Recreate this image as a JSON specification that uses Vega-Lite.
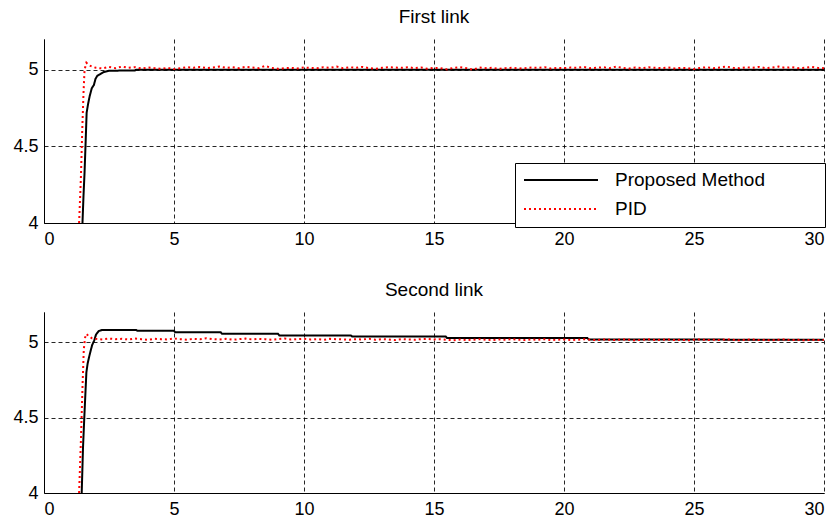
{
  "$schema": "https://vega.github.io/schema/vega-lite/v6.json",
  "background": "white",
  "padding": {"left": 5, "right": 5, "top": 8, "bottom": 5},
  "spacing": 33,
  "config": {
    "view": {"stroke": null},
    "font": "Liberation Sans",
    "axis": {
      "labelFont": "Liberation Sans",
      "labelFontSize": 18,
      "labelColor": "#000000",
      "domainColor": "#000000",
      "domainWidth": 1,
      "gridColor": "#000000",
      "gridDash": [4, 3],
      "gridOpacity": 0.85,
      "gridWidth": 1,
      "ticks": false,
      "title": null
    },
    "title": {"font": "Liberation Sans", "fontSize": 19, "fontWeight": "normal", "color": "#000000", "offset": 12}
  },
  "data": {"values": [
    {"panel": 1, "method": "Proposed Method", "t": 1.48, "y": 4.0},
    {"panel": 1, "method": "Proposed Method", "t": 1.52, "y": 4.18},
    {"panel": 1, "method": "Proposed Method", "t": 1.56, "y": 4.33},
    {"panel": 1, "method": "Proposed Method", "t": 1.6, "y": 4.52},
    {"panel": 1, "method": "Proposed Method", "t": 1.64, "y": 4.72},
    {"panel": 1, "method": "Proposed Method", "t": 1.7, "y": 4.78},
    {"panel": 1, "method": "Proposed Method", "t": 1.76, "y": 4.83},
    {"panel": 1, "method": "Proposed Method", "t": 1.84, "y": 4.88},
    {"panel": 1, "method": "Proposed Method", "t": 1.92, "y": 4.9},
    {"panel": 1, "method": "Proposed Method", "t": 1.98, "y": 4.94},
    {"panel": 1, "method": "Proposed Method", "t": 2.05, "y": 4.96},
    {"panel": 1, "method": "Proposed Method", "t": 2.15, "y": 4.97},
    {"panel": 1, "method": "Proposed Method", "t": 2.3, "y": 4.985},
    {"panel": 1, "method": "Proposed Method", "t": 2.5, "y": 4.993},
    {"panel": 1, "method": "Proposed Method", "t": 3.5, "y": 4.995},
    {"panel": 1, "method": "Proposed Method", "t": 3.55, "y": 5.0},
    {"panel": 1, "method": "Proposed Method", "t": 30, "y": 5.0},
    {"panel": 1, "method": "PID", "t": 1.35, "y": 4.0},
    {"panel": 1, "method": "PID", "t": 1.42, "y": 4.3},
    {"panel": 1, "method": "PID", "t": 1.47, "y": 4.6},
    {"panel": 1, "method": "PID", "t": 1.52, "y": 4.85},
    {"panel": 1, "method": "PID", "t": 1.56, "y": 5.0},
    {"panel": 1, "method": "PID", "t": 1.63, "y": 5.045},
    {"panel": 1, "method": "PID", "t": 1.72, "y": 5.03},
    {"panel": 1, "method": "PID", "t": 1.85, "y": 5.02},
    {"panel": 1, "method": "PID", "t": 2.0, "y": 5.012},
    {"panel": 1, "method": "PID", "t": 2.25, "y": 5.008},
    {"panel": 1, "method": "PID", "t": 2.5, "y": 5.018},
    {"panel": 1, "method": "PID", "t": 2.75, "y": 5.01},
    {"panel": 1, "method": "PID", "t": 3.0, "y": 5.02},
    {"panel": 1, "method": "PID", "t": 3.25, "y": 5.012},
    {"panel": 1, "method": "PID", "t": 3.5, "y": 5.016},
    {"panel": 1, "method": "PID", "t": 3.75, "y": 5.008},
    {"panel": 1, "method": "PID", "t": 4.0, "y": 5.014},
    {"panel": 1, "method": "PID", "t": 4.25, "y": 5.01},
    {"panel": 1, "method": "PID", "t": 4.5, "y": 5.006},
    {"panel": 1, "method": "PID", "t": 4.75, "y": 5.012},
    {"panel": 1, "method": "PID", "t": 5.0, "y": 5.004},
    {"panel": 1, "method": "PID", "t": 5.25, "y": 5.01},
    {"panel": 1, "method": "PID", "t": 5.5, "y": 5.016},
    {"panel": 1, "method": "PID", "t": 5.75, "y": 5.012},
    {"panel": 1, "method": "PID", "t": 6.0, "y": 5.018},
    {"panel": 1, "method": "PID", "t": 6.25, "y": 5.01},
    {"panel": 1, "method": "PID", "t": 6.5, "y": 5.014},
    {"panel": 1, "method": "PID", "t": 6.75, "y": 5.02},
    {"panel": 1, "method": "PID", "t": 7.0, "y": 5.012},
    {"panel": 1, "method": "PID", "t": 7.25, "y": 5.016},
    {"panel": 1, "method": "PID", "t": 7.5, "y": 5.01},
    {"panel": 1, "method": "PID", "t": 7.75, "y": 5.018},
    {"panel": 1, "method": "PID", "t": 8.0, "y": 5.014},
    {"panel": 1, "method": "PID", "t": 8.25, "y": 5.01},
    {"panel": 1, "method": "PID", "t": 8.5, "y": 5.024},
    {"panel": 1, "method": "PID", "t": 8.75, "y": 5.012},
    {"panel": 1, "method": "PID", "t": 9.0, "y": 5.006},
    {"panel": 1, "method": "PID", "t": 9.25, "y": 5.01},
    {"panel": 1, "method": "PID", "t": 9.5, "y": 5.012},
    {"panel": 1, "method": "PID", "t": 9.75, "y": 5.008},
    {"panel": 1, "method": "PID", "t": 10.0, "y": 5.014},
    {"panel": 1, "method": "PID", "t": 10.25, "y": 5.012},
    {"panel": 1, "method": "PID", "t": 10.5, "y": 5.01},
    {"panel": 1, "method": "PID", "t": 10.75, "y": 5.016},
    {"panel": 1, "method": "PID", "t": 11.0, "y": 5.012},
    {"panel": 1, "method": "PID", "t": 11.25, "y": 5.02},
    {"panel": 1, "method": "PID", "t": 11.5, "y": 5.01},
    {"panel": 1, "method": "PID", "t": 11.75, "y": 5.016},
    {"panel": 1, "method": "PID", "t": 12.0, "y": 5.012},
    {"panel": 1, "method": "PID", "t": 12.25, "y": 5.018},
    {"panel": 1, "method": "PID", "t": 12.5, "y": 5.01},
    {"panel": 1, "method": "PID", "t": 12.75, "y": 5.006},
    {"panel": 1, "method": "PID", "t": 13.0, "y": 5.012},
    {"panel": 1, "method": "PID", "t": 13.25, "y": 5.016},
    {"panel": 1, "method": "PID", "t": 13.5, "y": 5.014},
    {"panel": 1, "method": "PID", "t": 13.75, "y": 5.012},
    {"panel": 1, "method": "PID", "t": 14.0, "y": 5.016},
    {"panel": 1, "method": "PID", "t": 14.25, "y": 5.01},
    {"panel": 1, "method": "PID", "t": 14.5, "y": 5.014},
    {"panel": 1, "method": "PID", "t": 14.75, "y": 5.006},
    {"panel": 1, "method": "PID", "t": 15.0, "y": 5.012},
    {"panel": 1, "method": "PID", "t": 15.25, "y": 5.01},
    {"panel": 1, "method": "PID", "t": 15.5, "y": 5.002},
    {"panel": 1, "method": "PID", "t": 15.75, "y": 5.012},
    {"panel": 1, "method": "PID", "t": 16.0, "y": 5.016},
    {"panel": 1, "method": "PID", "t": 16.25, "y": 5.01},
    {"panel": 1, "method": "PID", "t": 16.5, "y": 5.0},
    {"panel": 1, "method": "PID", "t": 16.75, "y": 5.014},
    {"panel": 1, "method": "PID", "t": 17.0, "y": 5.01},
    {"panel": 1, "method": "PID", "t": 17.25, "y": 5.012},
    {"panel": 1, "method": "PID", "t": 17.5, "y": 5.006},
    {"panel": 1, "method": "PID", "t": 17.75, "y": 5.01},
    {"panel": 1, "method": "PID", "t": 18.0, "y": 5.012},
    {"panel": 1, "method": "PID", "t": 18.25, "y": 5.008},
    {"panel": 1, "method": "PID", "t": 18.5, "y": 5.01},
    {"panel": 1, "method": "PID", "t": 18.75, "y": 5.014},
    {"panel": 1, "method": "PID", "t": 19.0, "y": 5.012},
    {"panel": 1, "method": "PID", "t": 19.25, "y": 5.016},
    {"panel": 1, "method": "PID", "t": 19.5, "y": 5.008},
    {"panel": 1, "method": "PID", "t": 19.75, "y": 5.012},
    {"panel": 1, "method": "PID", "t": 20.0, "y": 5.01},
    {"panel": 1, "method": "PID", "t": 20.25, "y": 5.014},
    {"panel": 1, "method": "PID", "t": 20.5, "y": 5.012},
    {"panel": 1, "method": "PID", "t": 20.75, "y": 5.018},
    {"panel": 1, "method": "PID", "t": 21.0, "y": 5.01},
    {"panel": 1, "method": "PID", "t": 21.25, "y": 5.012},
    {"panel": 1, "method": "PID", "t": 21.5, "y": 5.016},
    {"panel": 1, "method": "PID", "t": 21.75, "y": 5.01},
    {"panel": 1, "method": "PID", "t": 22.0, "y": 5.02},
    {"panel": 1, "method": "PID", "t": 22.25, "y": 5.012},
    {"panel": 1, "method": "PID", "t": 22.5, "y": 5.008},
    {"panel": 1, "method": "PID", "t": 22.75, "y": 5.014},
    {"panel": 1, "method": "PID", "t": 23.0, "y": 5.01},
    {"panel": 1, "method": "PID", "t": 23.25, "y": 5.016},
    {"panel": 1, "method": "PID", "t": 23.5, "y": 5.012},
    {"panel": 1, "method": "PID", "t": 23.75, "y": 5.01},
    {"panel": 1, "method": "PID", "t": 24.0, "y": 5.014},
    {"panel": 1, "method": "PID", "t": 24.25, "y": 5.008},
    {"panel": 1, "method": "PID", "t": 24.5, "y": 5.012},
    {"panel": 1, "method": "PID", "t": 24.75, "y": 5.01},
    {"panel": 1, "method": "PID", "t": 25.0, "y": 5.004},
    {"panel": 1, "method": "PID", "t": 25.25, "y": 5.012},
    {"panel": 1, "method": "PID", "t": 25.5, "y": 5.016},
    {"panel": 1, "method": "PID", "t": 25.75, "y": 5.01},
    {"panel": 1, "method": "PID", "t": 26.0, "y": 5.014},
    {"panel": 1, "method": "PID", "t": 26.25, "y": 5.02},
    {"panel": 1, "method": "PID", "t": 26.5, "y": 5.012},
    {"panel": 1, "method": "PID", "t": 26.75, "y": 5.01},
    {"panel": 1, "method": "PID", "t": 27.0, "y": 5.016},
    {"panel": 1, "method": "PID", "t": 27.25, "y": 5.012},
    {"panel": 1, "method": "PID", "t": 27.5, "y": 5.018},
    {"panel": 1, "method": "PID", "t": 27.75, "y": 5.01},
    {"panel": 1, "method": "PID", "t": 28.0, "y": 5.014},
    {"panel": 1, "method": "PID", "t": 28.25, "y": 5.02},
    {"panel": 1, "method": "PID", "t": 28.5, "y": 5.012},
    {"panel": 1, "method": "PID", "t": 28.75, "y": 5.016},
    {"panel": 1, "method": "PID", "t": 29.0, "y": 5.01},
    {"panel": 1, "method": "PID", "t": 29.25, "y": 5.012},
    {"panel": 1, "method": "PID", "t": 29.5, "y": 5.018},
    {"panel": 1, "method": "PID", "t": 29.75, "y": 5.012},
    {"panel": 1, "method": "PID", "t": 30.0, "y": 5.01},
    {"panel": 2, "method": "Proposed Method", "t": 1.45, "y": 4.0},
    {"panel": 2, "method": "Proposed Method", "t": 1.5, "y": 4.3},
    {"panel": 2, "method": "Proposed Method", "t": 1.55, "y": 4.5},
    {"panel": 2, "method": "Proposed Method", "t": 1.59, "y": 4.65},
    {"panel": 2, "method": "Proposed Method", "t": 1.63, "y": 4.8},
    {"panel": 2, "method": "Proposed Method", "t": 1.68, "y": 4.86},
    {"panel": 2, "method": "Proposed Method", "t": 1.76, "y": 4.92},
    {"panel": 2, "method": "Proposed Method", "t": 1.85, "y": 4.98},
    {"panel": 2, "method": "Proposed Method", "t": 1.93, "y": 5.01},
    {"panel": 2, "method": "Proposed Method", "t": 2.0, "y": 5.05},
    {"panel": 2, "method": "Proposed Method", "t": 2.1, "y": 5.073},
    {"panel": 2, "method": "Proposed Method", "t": 2.22, "y": 5.08},
    {"panel": 2, "method": "Proposed Method", "t": 3.55, "y": 5.08},
    {"panel": 2, "method": "Proposed Method", "t": 3.6, "y": 5.075},
    {"panel": 2, "method": "Proposed Method", "t": 5.0, "y": 5.075},
    {"panel": 2, "method": "Proposed Method", "t": 5.05, "y": 5.065},
    {"panel": 2, "method": "Proposed Method", "t": 6.8, "y": 5.065},
    {"panel": 2, "method": "Proposed Method", "t": 6.85, "y": 5.055},
    {"panel": 2, "method": "Proposed Method", "t": 9.0, "y": 5.055},
    {"panel": 2, "method": "Proposed Method", "t": 9.05, "y": 5.045},
    {"panel": 2, "method": "Proposed Method", "t": 11.8, "y": 5.045},
    {"panel": 2, "method": "Proposed Method", "t": 11.85, "y": 5.038},
    {"panel": 2, "method": "Proposed Method", "t": 15.45, "y": 5.038},
    {"panel": 2, "method": "Proposed Method", "t": 15.5, "y": 5.027},
    {"panel": 2, "method": "Proposed Method", "t": 20.9, "y": 5.027},
    {"panel": 2, "method": "Proposed Method", "t": 20.95, "y": 5.018},
    {"panel": 2, "method": "Proposed Method", "t": 30, "y": 5.016},
    {"panel": 2, "method": "PID", "t": 1.35, "y": 4.0},
    {"panel": 2, "method": "PID", "t": 1.42, "y": 4.35},
    {"panel": 2, "method": "PID", "t": 1.48, "y": 4.7},
    {"panel": 2, "method": "PID", "t": 1.53, "y": 4.95},
    {"panel": 2, "method": "PID", "t": 1.58, "y": 5.03},
    {"panel": 2, "method": "PID", "t": 1.63, "y": 5.055},
    {"panel": 2, "method": "PID", "t": 1.72, "y": 5.04},
    {"panel": 2, "method": "PID", "t": 1.85, "y": 5.025},
    {"panel": 2, "method": "PID", "t": 2.0, "y": 5.022},
    {"panel": 2, "method": "PID", "t": 2.25, "y": 5.018},
    {"panel": 2, "method": "PID", "t": 2.5, "y": 5.024},
    {"panel": 2, "method": "PID", "t": 2.75, "y": 5.02},
    {"panel": 2, "method": "PID", "t": 3.0, "y": 5.022},
    {"panel": 2, "method": "PID", "t": 3.25, "y": 5.018},
    {"panel": 2, "method": "PID", "t": 3.5, "y": 5.024},
    {"panel": 2, "method": "PID", "t": 3.75, "y": 5.02},
    {"panel": 2, "method": "PID", "t": 4.0, "y": 5.016},
    {"panel": 2, "method": "PID", "t": 4.25, "y": 5.022},
    {"panel": 2, "method": "PID", "t": 4.5, "y": 5.02},
    {"panel": 2, "method": "PID", "t": 4.75, "y": 5.018},
    {"panel": 2, "method": "PID", "t": 5.0, "y": 5.024},
    {"panel": 2, "method": "PID", "t": 5.25, "y": 5.02},
    {"panel": 2, "method": "PID", "t": 5.5, "y": 5.016},
    {"panel": 2, "method": "PID", "t": 5.75, "y": 5.022},
    {"panel": 2, "method": "PID", "t": 6.0, "y": 5.02},
    {"panel": 2, "method": "PID", "t": 6.25, "y": 5.026},
    {"panel": 2, "method": "PID", "t": 6.5, "y": 5.02},
    {"panel": 2, "method": "PID", "t": 6.75, "y": 5.018},
    {"panel": 2, "method": "PID", "t": 7.0, "y": 5.022},
    {"panel": 2, "method": "PID", "t": 7.25, "y": 5.016},
    {"panel": 2, "method": "PID", "t": 7.5, "y": 5.02},
    {"panel": 2, "method": "PID", "t": 7.75, "y": 5.024},
    {"panel": 2, "method": "PID", "t": 8.0, "y": 5.018},
    {"panel": 2, "method": "PID", "t": 8.25, "y": 5.022},
    {"panel": 2, "method": "PID", "t": 8.5, "y": 5.02},
    {"panel": 2, "method": "PID", "t": 8.75, "y": 5.016},
    {"panel": 2, "method": "PID", "t": 9.0, "y": 5.02},
    {"panel": 2, "method": "PID", "t": 9.25, "y": 5.024},
    {"panel": 2, "method": "PID", "t": 9.5, "y": 5.018},
    {"panel": 2, "method": "PID", "t": 9.75, "y": 5.02},
    {"panel": 2, "method": "PID", "t": 10.0, "y": 5.022},
    {"panel": 2, "method": "PID", "t": 10.25, "y": 5.018},
    {"panel": 2, "method": "PID", "t": 10.5, "y": 5.02},
    {"panel": 2, "method": "PID", "t": 10.75, "y": 5.016},
    {"panel": 2, "method": "PID", "t": 11.0, "y": 5.022},
    {"panel": 2, "method": "PID", "t": 11.25, "y": 5.02},
    {"panel": 2, "method": "PID", "t": 11.5, "y": 5.018},
    {"panel": 2, "method": "PID", "t": 11.75, "y": 5.016},
    {"panel": 2, "method": "PID", "t": 12.0, "y": 5.02},
    {"panel": 2, "method": "PID", "t": 12.25, "y": 5.018},
    {"panel": 2, "method": "PID", "t": 12.5, "y": 5.022},
    {"panel": 2, "method": "PID", "t": 12.75, "y": 5.016},
    {"panel": 2, "method": "PID", "t": 13.0, "y": 5.02},
    {"panel": 2, "method": "PID", "t": 13.25, "y": 5.018},
    {"panel": 2, "method": "PID", "t": 13.5, "y": 5.014},
    {"panel": 2, "method": "PID", "t": 13.75, "y": 5.02},
    {"panel": 2, "method": "PID", "t": 14.0, "y": 5.018},
    {"panel": 2, "method": "PID", "t": 14.25, "y": 5.016},
    {"panel": 2, "method": "PID", "t": 14.5, "y": 5.02},
    {"panel": 2, "method": "PID", "t": 14.75, "y": 5.022},
    {"panel": 2, "method": "PID", "t": 15.0, "y": 5.018},
    {"panel": 2, "method": "PID", "t": 15.25, "y": 5.02},
    {"panel": 2, "method": "PID", "t": 15.5, "y": 5.016},
    {"panel": 2, "method": "PID", "t": 15.75, "y": 5.012},
    {"panel": 2, "method": "PID", "t": 16.0, "y": 5.018},
    {"panel": 2, "method": "PID", "t": 16.25, "y": 5.014},
    {"panel": 2, "method": "PID", "t": 16.5, "y": 5.016},
    {"panel": 2, "method": "PID", "t": 16.75, "y": 5.02},
    {"panel": 2, "method": "PID", "t": 17.0, "y": 5.016},
    {"panel": 2, "method": "PID", "t": 17.25, "y": 5.014},
    {"panel": 2, "method": "PID", "t": 17.5, "y": 5.018},
    {"panel": 2, "method": "PID", "t": 17.75, "y": 5.016},
    {"panel": 2, "method": "PID", "t": 18.0, "y": 5.02},
    {"panel": 2, "method": "PID", "t": 18.25, "y": 5.016},
    {"panel": 2, "method": "PID", "t": 18.5, "y": 5.014},
    {"panel": 2, "method": "PID", "t": 18.75, "y": 5.018},
    {"panel": 2, "method": "PID", "t": 19.0, "y": 5.016},
    {"panel": 2, "method": "PID", "t": 19.25, "y": 5.02},
    {"panel": 2, "method": "PID", "t": 19.5, "y": 5.014},
    {"panel": 2, "method": "PID", "t": 19.75, "y": 5.016},
    {"panel": 2, "method": "PID", "t": 20.0, "y": 5.018},
    {"panel": 2, "method": "PID", "t": 20.25, "y": 5.014},
    {"panel": 2, "method": "PID", "t": 20.5, "y": 5.016},
    {"panel": 2, "method": "PID", "t": 20.75, "y": 5.02},
    {"panel": 2, "method": "PID", "t": 21.0, "y": 5.016},
    {"panel": 2, "method": "PID", "t": 21.25, "y": 5.014},
    {"panel": 2, "method": "PID", "t": 21.5, "y": 5.018},
    {"panel": 2, "method": "PID", "t": 21.75, "y": 5.016},
    {"panel": 2, "method": "PID", "t": 22.0, "y": 5.014},
    {"panel": 2, "method": "PID", "t": 22.25, "y": 5.018},
    {"panel": 2, "method": "PID", "t": 22.5, "y": 5.016},
    {"panel": 2, "method": "PID", "t": 22.75, "y": 5.012},
    {"panel": 2, "method": "PID", "t": 23.0, "y": 5.016},
    {"panel": 2, "method": "PID", "t": 23.25, "y": 5.018},
    {"panel": 2, "method": "PID", "t": 23.5, "y": 5.014},
    {"panel": 2, "method": "PID", "t": 23.75, "y": 5.016},
    {"panel": 2, "method": "PID", "t": 24.0, "y": 5.018},
    {"panel": 2, "method": "PID", "t": 24.25, "y": 5.014},
    {"panel": 2, "method": "PID", "t": 24.5, "y": 5.016},
    {"panel": 2, "method": "PID", "t": 24.75, "y": 5.012},
    {"panel": 2, "method": "PID", "t": 25.0, "y": 5.016},
    {"panel": 2, "method": "PID", "t": 25.25, "y": 5.018},
    {"panel": 2, "method": "PID", "t": 25.5, "y": 5.014},
    {"panel": 2, "method": "PID", "t": 25.75, "y": 5.016},
    {"panel": 2, "method": "PID", "t": 26.0, "y": 5.014},
    {"panel": 2, "method": "PID", "t": 26.25, "y": 5.018},
    {"panel": 2, "method": "PID", "t": 26.5, "y": 5.016},
    {"panel": 2, "method": "PID", "t": 26.75, "y": 5.012},
    {"panel": 2, "method": "PID", "t": 27.0, "y": 5.016},
    {"panel": 2, "method": "PID", "t": 27.25, "y": 5.018},
    {"panel": 2, "method": "PID", "t": 27.5, "y": 5.014},
    {"panel": 2, "method": "PID", "t": 27.75, "y": 5.016},
    {"panel": 2, "method": "PID", "t": 28.0, "y": 5.012},
    {"panel": 2, "method": "PID", "t": 28.25, "y": 5.016},
    {"panel": 2, "method": "PID", "t": 28.5, "y": 5.018},
    {"panel": 2, "method": "PID", "t": 28.75, "y": 5.014},
    {"panel": 2, "method": "PID", "t": 29.0, "y": 5.016},
    {"panel": 2, "method": "PID", "t": 29.25, "y": 5.012},
    {"panel": 2, "method": "PID", "t": 29.5, "y": 5.016},
    {"panel": 2, "method": "PID", "t": 29.75, "y": 5.014},
    {"panel": 2, "method": "PID", "t": 30.0, "y": 5.014}
  ]},
  "resolve": {"legend": {"color": "independent", "strokeDash": "independent"}},
  "vconcat": [
    {
      "title": {"text": "First link"},
      "width": 780,
      "height": 184,
      "transform": [{"filter": "datum.panel === 1"}],
      "mark": {"type": "line", "strokeWidth": 2, "clip": true},
      "encoding": {
        "x": {"field": "t", "type": "quantitative", "scale": {"domain": [0, 30], "nice": false},
              "axis": {"values": [0, 5, 10, 15, 20, 25, 30], "format": "d", "labelPadding": 7}},
        "y": {"field": "y", "type": "quantitative", "scale": {"domain": [4, 5.2], "nice": false, "zero": false},
              "axis": {"values": [4, 4.5, 5], "format": "~g", "labelPadding": 6, "minExtent": 39, "maxExtent": 39}},
        "color": {"field": "method", "type": "nominal",
                  "scale": {"domain": ["Proposed Method", "PID"], "range": ["#000000", "#ff0000"]},
                  "legend": {"title": "\u00a0", "titleOrient": "right", "titlePadding": 52, "titleFontSize": 10,
                             "orient": "none", "legendX": 471, "legendY": 124,
                             "fillColor": "white", "strokeColor": "#000000", "padding": 8,
                             "symbolType": "stroke", "symbolSize": 5476, "symbolStrokeWidth": 2,
                             "clipHeight": 18,
                             "labelFont": "Liberation Sans", "labelFontSize": 19, "labelColor": "#000000",
                             "labelOffset": 16, "rowPadding": 10}},
        "strokeDash": {"field": "method", "type": "nominal",
                  "scale": {"domain": ["Proposed Method", "PID"], "range": [[1, 0], [2, 3]]},
                  "legend": {"title": "\u00a0", "titleOrient": "right", "titlePadding": 52, "titleFontSize": 10,
                             "orient": "none", "legendX": 471, "legendY": 124,
                             "fillColor": "white", "strokeColor": "#000000", "padding": 8,
                             "symbolType": "stroke", "symbolSize": 5476, "symbolStrokeWidth": 2,
                             "clipHeight": 18,
                             "labelFont": "Liberation Sans", "labelFontSize": 19, "labelColor": "#000000",
                             "labelOffset": 16, "rowPadding": 10}}
      }
    },
    {
      "title": {"text": "Second link"},
      "width": 780,
      "height": 181,
      "transform": [{"filter": "datum.panel === 2"}],
      "mark": {"type": "line", "strokeWidth": 2, "clip": true},
      "encoding": {
        "x": {"field": "t", "type": "quantitative", "scale": {"domain": [0, 30], "nice": false},
              "axis": {"values": [0, 5, 10, 15, 20, 25, 30], "format": "d", "labelPadding": 7}},
        "y": {"field": "y", "type": "quantitative", "scale": {"domain": [4, 5.2], "nice": false, "zero": false},
              "axis": {"values": [4, 4.5, 5], "format": "~g", "labelPadding": 6, "minExtent": 39, "maxExtent": 39}},
        "color": {"field": "method", "type": "nominal",
                  "scale": {"domain": ["Proposed Method", "PID"], "range": ["#000000", "#ff0000"]},
                  "legend": null},
        "strokeDash": {"field": "method", "type": "nominal",
                  "scale": {"domain": ["Proposed Method", "PID"], "range": [[1, 0], [2, 3]]},
                  "legend": null}
      }
    }
  ]
}
